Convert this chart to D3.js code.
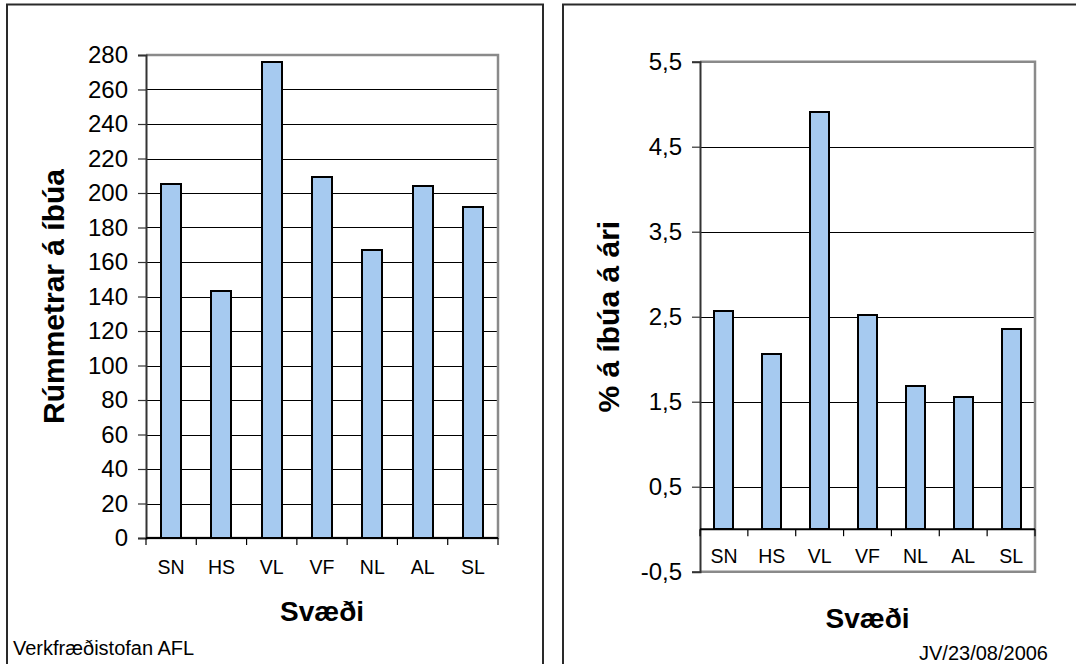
<!DOCTYPE html>
<html>
<head>
<meta charset="utf-8">
<script src="https://cdn.jsdelivr.net/npm/d3@7"></script>
<style>
  html, body { margin: 0; padding: 0; background: #fff; }
  svg { display: block; font-family: "Liberation Sans", Arial, sans-serif; }
</style>
</head>
<body>
<svg id="chart" width="1076" height="664"></svg>
<script>
const categories = ["SN", "HS", "VL", "VF", "NL", "AL", "SL"];
const volumePerResident = [205, 143, 276, 209, 167, 204, 192];
const growthPercent = [2.57, 2.06, 4.91, 2.52, 1.69, 1.56, 2.36];
const leftTicks = [0, 20, 40, 60, 80, 100, 120, 140, 160, 180, 200, 220, 240, 260, 280];
const rightTicks = [-0.5, 0.5, 1.5, 2.5, 3.5, 4.5, 5.5];
const leftYTitle = "Rúmmetrar á íbúa";
const rightYTitle = "% á íbúa á ári";
const xTitle = "Svæði";
const footLeft = "Verkfræðistofan AFL";
const footRight = "JV/23/08/2006";

const svg = d3.select("#chart");
const isLocale = d3.formatLocale({decimal: ",", thousands: ".", grouping: [3], currency: ["", " kr."], minus: "-"});
const fmtDec = isLocale.format(".1f");

// panel frames
svg.append("rect").attr("x", 7).attr("y", 4.5).attr("width", 536).attr("height", 700)
  .attr("fill", "none").attr("stroke", "#2a2a2a").attr("stroke-width", 2);
svg.append("rect").attr("x", 563).attr("y", 4.5).attr("width", 600).attr("height", 700)
  .attr("fill", "none").attr("stroke", "#2a2a2a").attr("stroke-width", 2);

function drawChart(opts) {
  const g = svg.append("g");
  const {x0, x1, yScale, values, ticks, fmt, zeroY} = opts;
  const x = d3.scaleBand().domain(categories).range([x0, x1]).paddingInner(0.6).paddingOuter(0.3);
  const [yBot, yTop] = yScale.range();

  // gridlines
  g.selectAll("line.grid").data(ticks.filter(t => t !== ticks[0] && t !== ticks[ticks.length - 1]))
    .join("line").attr("class", "grid")
    .attr("x1", x0).attr("x2", x1)
    .attr("y1", d => Math.round(yScale(d)) + 0.5).attr("y2", d => Math.round(yScale(d)) + 0.5)
    .attr("stroke", "#000").attr("stroke-width", 1);

  // plot area border (top, right, bottom) grey
  g.append("path")
    .attr("d", `M${x0},${yTop}H${x1}V${yBot}H${x0}`)
    .attr("fill", "none").attr("stroke", "#8a8a8a").attr("stroke-width", 2.5);

  // bars
  g.selectAll("rect.bar").data(values).join("rect").attr("class", "bar")
    .attr("x", (d, i) => Math.round(x(categories[i])))
    .attr("width", Math.round(x.bandwidth()))
    .attr("y", d => Math.round(yScale(d)))
    .attr("height", d => Math.round(yScale(0)) - Math.round(yScale(d)))
    .attr("fill", "#A6CAF0").attr("stroke", "#000").attr("stroke-width", 2);

  // y axis
  const yAxis = d3.axisLeft(yScale).tickValues(ticks).tickSize(8).tickPadding(10).tickFormat(fmt);
  const ya = g.append("g").attr("transform", `translate(${x0},0)`).call(yAxis);
  ya.attr("font-family", null);
  ya.select(".domain").attr("stroke", "#333").attr("stroke-width", 2);
  ya.selectAll(".tick line").attr("stroke", "#333").attr("stroke-width", 1.2);
  ya.selectAll(".tick text").attr("font-size", 24).attr("fill", "#000");

  // x axis at zero with boundary ticks
  const step = x.step();
  const bounds = d3.range(categories.length + 1).map(i => x0 + i * step);
  g.append("line").attr("x1", x0).attr("x2", x1).attr("y1", zeroY).attr("y2", zeroY)
    .attr("stroke", "#000").attr("stroke-width", 2);
  g.selectAll("line.xt").data(bounds).join("line").attr("class", "xt")
    .attr("x1", d => d).attr("x2", d => d).attr("y1", zeroY).attr("y2", zeroY + 7)
    .attr("stroke", "#000").attr("stroke-width", 1.2);
  g.selectAll("text.xl").data(categories).join("text").attr("class", "xl")
    .attr("x", d => x(d) + x.bandwidth() / 2).attr("y", zeroY + opts.labelOffset)
    .attr("text-anchor", "middle").attr("font-size", 19.5).attr("fill", "#000").text(d => d);

  // titles
  g.append("text").attr("transform", `translate(${opts.yTitleX},${(yTop + yBot) / 2}) rotate(-90)`)
    .attr("text-anchor", "middle").attr("font-size", 30).attr("font-weight", "bold").text(opts.yTitle);
  g.append("text").attr("x", (x0 + x1) / 2).attr("y", opts.xTitleY)
    .attr("text-anchor", "middle").attr("font-size", 28).attr("font-weight", "bold").text(xTitle);
}

const yLeft = d3.scaleLinear().domain([0, 280]).range([538, 55]);
drawChart({x0: 146, x1: 498, yScale: yLeft, values: volumePerResident, ticks: leftTicks,
  fmt: d3.format("d"), zeroY: yLeft(0), labelOffset: 36, yTitle: leftYTitle, yTitleX: 64, xTitleY: 621});

const yRight = d3.scaleLinear().domain([-0.5, 5.5]).range([571.7, 61.7]);
drawChart({x0: 700, x1: 1035, yScale: yRight, values: growthPercent, ticks: rightTicks,
  fmt: fmtDec, zeroY: yRight(0), labelOffset: 34, yTitle: rightYTitle, yTitleX: 619, xTitleY: 628});

svg.append("text").attr("x", 13).attr("y", 655).attr("font-size", 20).text(footLeft);
svg.append("text").attr("x", 1048).attr("y", 660).attr("text-anchor", "end").attr("font-size", 20).text(footRight);
</script>
</body>
</html>
